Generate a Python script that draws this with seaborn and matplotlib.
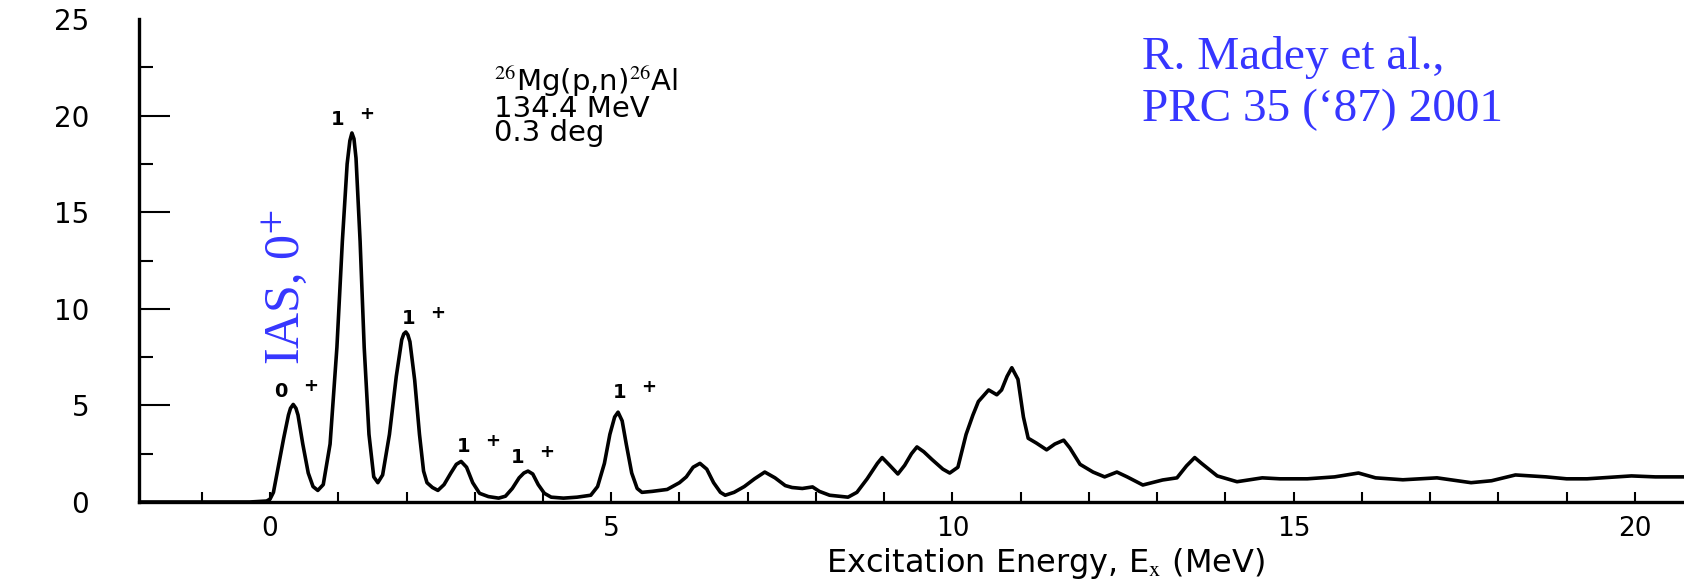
import matplotlib
matplotlib.use("Agg")
import matplotlib.pyplot as plt
from matplotlib.ticker import MultipleLocator
import seaborn as sns

# 26Mg(p,n)26Al spectrum at 134.4 MeV, 0.3 deg
energy = [
    -1.92, -1.0, -0.3, -0.05, 0.0, 0.05, 0.12, 0.20, 0.27, 0.30,
    0.34, 0.38, 0.41, 0.48, 0.56, 0.63, 0.70, 0.78, 0.88, 0.98,
    1.06, 1.13, 1.17, 1.20, 1.23, 1.26, 1.32, 1.38, 1.45, 1.52,
    1.58, 1.65, 1.75, 1.85, 1.93, 1.96, 1.99, 2.02, 2.05, 2.12,
    2.19, 2.25, 2.30, 2.38, 2.46, 2.55, 2.65, 2.73, 2.80, 2.88,
    2.97, 3.07, 3.20, 3.35, 3.45, 3.55, 3.65, 3.72, 3.78, 3.85,
    3.93, 4.02, 4.12, 4.30, 4.50, 4.70, 4.80, 4.90, 4.98, 5.05,
    5.10, 5.16, 5.22, 5.30, 5.38, 5.45, 5.60, 5.82, 6.00, 6.10,
    6.20, 6.30, 6.40, 6.50, 6.60, 6.67, 6.80, 6.95, 7.10, 7.25,
    7.40, 7.55, 7.65, 7.80, 7.95, 8.05, 8.20, 8.47, 8.60, 8.75,
    8.90, 8.97, 9.08, 9.20, 9.30, 9.40, 9.48, 9.58, 9.70, 9.86,
    9.96, 10.08, 10.20, 10.30, 10.38, 10.53, 10.65, 10.72, 10.80, 10.87,
    10.96, 11.04, 11.11, 11.23, 11.38, 11.50, 11.63, 11.72, 11.87, 12.06,
    12.23, 12.41, 12.56, 12.79, 13.08, 13.29, 13.43, 13.55, 13.65, 13.88,
    14.17, 14.54, 14.80, 15.20, 15.60, 15.95, 16.20, 16.60, 17.10, 17.60,
    17.90, 18.25, 18.70, 19.00, 19.30, 19.95, 20.30, 20.72,
]
counts = [
    0.0, 0.0, 0.0, 0.05, 0.15, 0.5, 1.8, 3.3, 4.5, 4.85,
    5.05, 4.85, 4.5, 3.0, 1.5, 0.8, 0.6, 0.9, 3.0, 8.0,
    13.5, 17.5, 18.7, 19.1, 18.8, 17.8, 13.5, 8.0, 3.5, 1.3,
    1.0, 1.4, 3.5, 6.5, 8.4, 8.7, 8.8, 8.65, 8.3, 6.3,
    3.5, 1.6, 1.0, 0.75, 0.6, 0.9, 1.5, 1.95, 2.1, 1.8,
    1.0, 0.45, 0.28, 0.2, 0.3, 0.7, 1.25, 1.5, 1.6, 1.45,
    0.9, 0.45, 0.25, 0.2, 0.25, 0.35, 0.8, 2.0, 3.5, 4.4,
    4.65, 4.2, 3.0, 1.5, 0.7, 0.5, 0.55, 0.65, 1.0, 1.3,
    1.8, 2.0, 1.7, 1.0, 0.5, 0.35, 0.5, 0.8, 1.2, 1.55,
    1.25, 0.85, 0.75, 0.7, 0.78, 0.55, 0.35, 0.25, 0.5, 1.2,
    2.0, 2.3, 1.9, 1.45, 1.9, 2.5, 2.85, 2.6, 2.2, 1.7,
    1.5, 1.8, 3.5, 4.5, 5.2, 5.8, 5.55, 5.8, 6.5, 6.95,
    6.35, 4.4, 3.3, 3.05, 2.7, 3.0, 3.2, 2.8, 1.95, 1.55,
    1.3, 1.55, 1.3, 0.88, 1.14, 1.25, 1.87, 2.3, 2.0, 1.35,
    1.05, 1.25, 1.2, 1.2, 1.3, 1.5, 1.25, 1.15, 1.25, 1.0,
    1.1, 1.4, 1.3, 1.2, 1.2, 1.35, 1.3, 1.3,
]

# spin-parity labels above the peaks
label_energy = [0.06, 0.89, 1.93, 2.73, 3.53, 5.02]
label_height = [5.7, 19.8, 9.5, 2.85, 2.3, 5.65]
label_spin = ["0", "1", "1", "1", "1", "1"]

y_ticks = [0, 5, 10, 15, 20, 25]
x_ticks = [0, 5, 10, 15, 20]

sns.set_theme(style="ticks")
plt.rcParams["font.family"] = ["DejaVu Sans"]
plt.rcParams["mathtext.fontset"] = "stix"

W, H = 1684, 581
fig = plt.figure(figsize=(W / 100, H / 100), dpi=100)
fig.patch.set_facecolor("white")
ax = fig.add_axes([139 / W, 1 - 502 / H, (W - 139) / W, 483 / H])
ax.set_facecolor("white")

sns.lineplot(x=energy, y=counts, color="black", lw=2.6, ax=ax,
             sort=False, estimator=None)
ax.lines[0].set_solid_joinstyle("round")

ax.set_xlim(-1.92, 20.72)
ax.set_ylim(0, 25)
ax.set_yticks(y_ticks)
ax.set_yticklabels([str(v) for v in y_ticks])
ax.set_xticks(x_ticks)
ax.set_xticklabels([str(v) for v in x_ticks])
ax.yaxis.set_minor_locator(MultipleLocator(2.5))
ax.xaxis.set_minor_locator(MultipleLocator(1))

ax.tick_params(axis="y", which="major", direction="in", length=22, width=1.5,
               pad=36, labelsize=20, colors="black")
ax.tick_params(axis="y", which="minor", direction="in", length=10, width=1.5,
               colors="black")
ax.tick_params(axis="x", which="both", direction="in", length=7, width=1.5,
               pad=10, labelsize=19, colors="black")
ax.yaxis.get_major_ticks()[-1].tick1line.set_visible(False)

sns.despine(ax=ax)
for side in ("left", "bottom"):
    ax.spines[side].set_linewidth(2.4)
    ax.spines[side].set_color("black")
ax.grid(False)

ax.set_xlabel(r"Excitation Energy, E$_{\mathrm{x}}$ (MeV)", fontsize=23,
              color="black")
ax.xaxis.set_label_coords(0.587, -0.127)
ax.xaxis.label.set_va("center")
ax.set_ylabel("")

for e, h, j in zip(label_energy, label_height, label_spin):
    ax.text(e, h, j, fontsize=14, fontweight="bold",
            ha="left", va="center", color="black")
    ax.text(e + 0.42, h + 0.3, "+", fontsize=13, fontweight="bold",
            ha="left", va="center", color="black")

# reaction and kinematics
ax.text(0.2298, 0.905,
        "$^{26}$Mg(p,n)$^{26}$Al\n134.4 MeV\n0.3 deg",
        transform=ax.transAxes, fontsize=21, linespacing=0.82,
        ha="left", va="top", color="black")

blue = "#3636ff"
ax.text(0.649, 0.965, "R. Madey et al.,\nPRC 35 (\u201887) 2001",
        transform=ax.transAxes, fontsize=34, family="Liberation Serif",
        color=blue, ha="left", va="top", linespacing=1.3)

ax.text(0.23, 11.1, r"IAS, 0$^{+}$", rotation=90, fontsize=36,
        family="Liberation Serif", color=blue, ha="center", va="center")

fig.savefig("out.png", dpi=100, facecolor="white")
